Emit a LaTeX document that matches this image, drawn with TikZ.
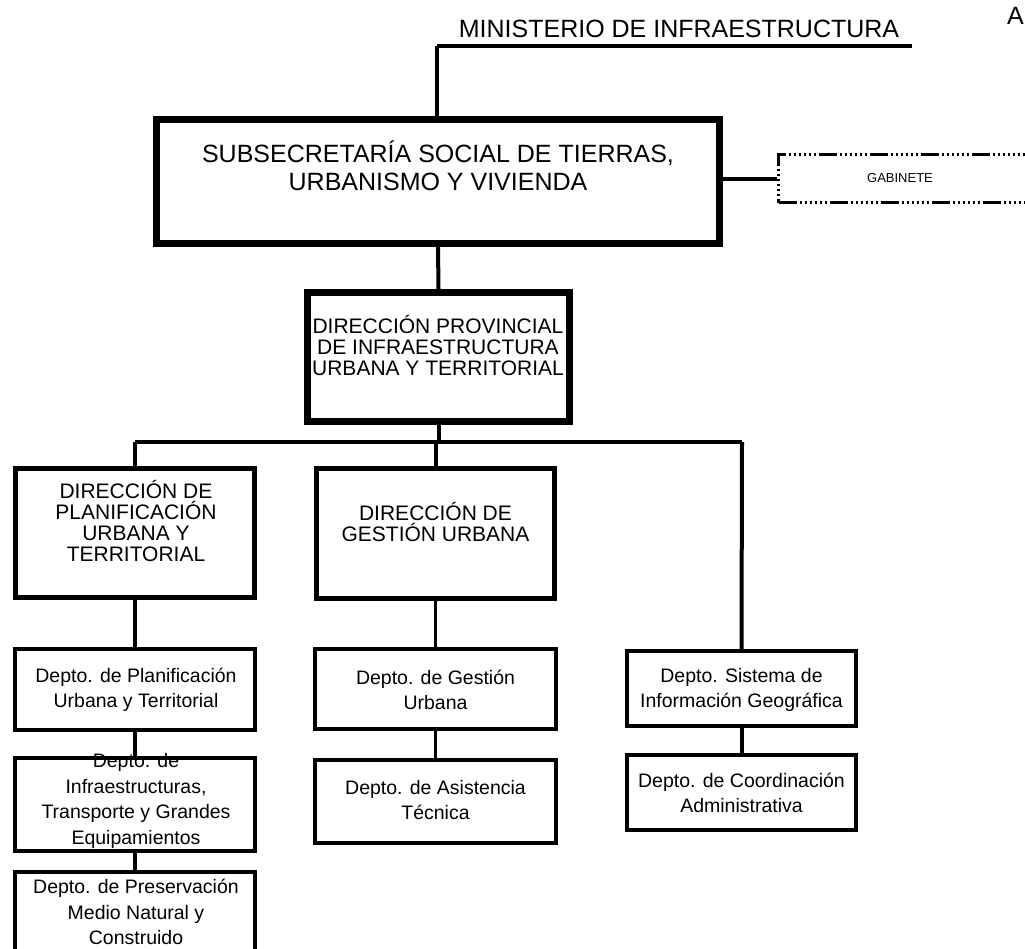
\documentclass[tikz,border=0pt]{standalone}
\usepackage{fontspec}
\setmainfont{Liberation Sans}
\begin{document}
\begin{tikzpicture}[x=1pt,y=-1pt,
  box/.style={draw=black, fill=white, inner sep=0pt, anchor=center},
  conn/.style={draw=black, line width=4pt},
  thinconn/.style={draw=black, line width=3pt},
  bigtxt/.style={font=\fontsize{25}{28}\selectfont, align=center, inner sep=0pt},
  midtxt/.style={font=\fontsize{21}{21}\selectfont, align=center, inner sep=0pt},
  depttxt/.style={font=\fontsize{19.5}{25.5}\selectfont, align=center, inner sep=0pt},
  gabtxt/.style={font=\fontsize{13}{15}\selectfont, inner sep=0pt},
  dashbox/.style={draw=black, line width=3pt, fill=white,
    dash pattern=on 18pt off 3pt on 2pt off 3pt on 2pt off 3pt on 2pt off 3pt on 2pt off 3pt on 2pt off 3pt on 2pt off 3pt}
]
\clip (0,0) rectangle (1025,949);
\useasboundingbox (0,0) rectangle (1025,949);
\fill[white] (0,0) rectangle (1025,949);

% top heading
\node[bigtxt] (min) at (679,29) {MINISTERIO DE INFRAESTRUCTURA};
\node[bigtxt, anchor=west] (anexo) at (1007,16) {A};
\coordinate (mL) at (437,46);
\coordinate (mR) at (912,46);

% boxes
\node[box, line width=7pt, minimum width=563pt, minimum height=124pt] (sub) at (438,181.5) {};
\node[box, dashbox, minimum width=260pt, minimum height=48pt] (gab) at (908.5,179) {};
\node[box, line width=7pt, minimum width=262pt, minimum height=129pt] (prov) at (438.5,357) {};
\node[box, line width=5pt, minimum width=239pt, minimum height=129pt] (dplan) at (135,533) {};
\node[box, line width=5pt, minimum width=238pt, minimum height=130pt] (dgest) at (435.5,533.5) {};
\node[box, line width=4pt, minimum width=240pt, minimum height=81pt] (planif) at (135,689.5) {};
\node[box, line width=4pt, minimum width=240pt, minimum height=93pt] (infra) at (135,804.5) {};
\node[box, line width=4pt, minimum width=240pt, minimum height=91pt] (pres) at (135,917.5) {};
\node[box, line width=4pt, minimum width=241pt, minimum height=80pt] (gest) at (435.5,689) {};
\node[box, line width=4pt, minimum width=241pt, minimum height=83pt] (asis) at (435.5,801.5) {};
\node[box, line width=4pt, minimum width=229pt, minimum height=75pt] (sig) at (741.5,688.5) {};
\node[box, line width=4pt, minimum width=229pt, minimum height=75pt] (coord) at (741.5,792.5) {};

% texts
\node[bigtxt] (subtxt) at (438,166) {SUBSECRETARÍA SOCIAL DE TIERRAS,\\URBANISMO Y VIVIENDA};
\node[gabtxt] (gabtxt) at (900,178) {GABINETE};
\node[midtxt] (provtxt) at (438,345) {DIRECCIÓN PROVINCIAL\\DE INFRAESTRUCTURA\\URBANA Y TERRITORIAL};
\node[midtxt] (dplantxt) at (136,521) {DIRECCIÓN DE\\PLANIFICACIÓN\\URBANA Y\\TERRITORIAL};
\node[midtxt] (dgesttxt) at (435.5,522) {DIRECCIÓN DE\\GESTIÓN URBANA};
\node[depttxt] (planiftxt) at (136,690) {Depto. de Planificación\\Urbana y Territorial};
\node[depttxt] (infratxt) at (136,801) {Depto. de\\Infraestructuras,\\Transporte y Grandes\\Equipamientos};
\node[depttxt] (prestxt) at (136,912) {Depto. de Preservación\\Medio Natural y\\Construido};
\node[depttxt] (gesttxt) at (435.5,690) {Depto. de Gestión\\Urbana};
\node[depttxt] (asistxt) at (435.5,800) {Depto. de Asistencia\\Técnica};
\node[depttxt] (sigtxt) at (741.5,690) {Depto. Sistema de\\Información Geográfica};
\node[depttxt] (coordtxt) at (741.5,793) {Depto. de Coordinación\\Administrativa};

% connectors
\coordinate (busL) at (135,442);
\coordinate (busR) at (742,442);
\draw[conn] (mL) -- (mR);
\draw[conn] (mL) -- (mL |- sub.north);
\draw[conn] (gab.west -| sub.east) -- (gab.west);
\draw[conn] (sub.south) -- (prov.north);
\draw[conn] (prov.south) -- (prov.south |- busL);
\draw[conn] (busL) -- (busR);
\draw[conn] (busL) -- (dplan.north);
\draw[conn] (dgest.north |- busL) -- (dgest.north);
\draw[conn] (busR) -- (sig.north);
\draw[conn] (dplan.south) -- (planif.north);
\draw[conn] (planif.south) -- (infra.north);
\draw[conn] (infra.south) -- (pres.north);
\draw[thinconn] (dgest.south) -- (gest.north);
\draw[thinconn] (gest.south) -- (asis.north);
\draw[conn] (sig.south) -- (coord.north);
\end{tikzpicture}
\end{document}
